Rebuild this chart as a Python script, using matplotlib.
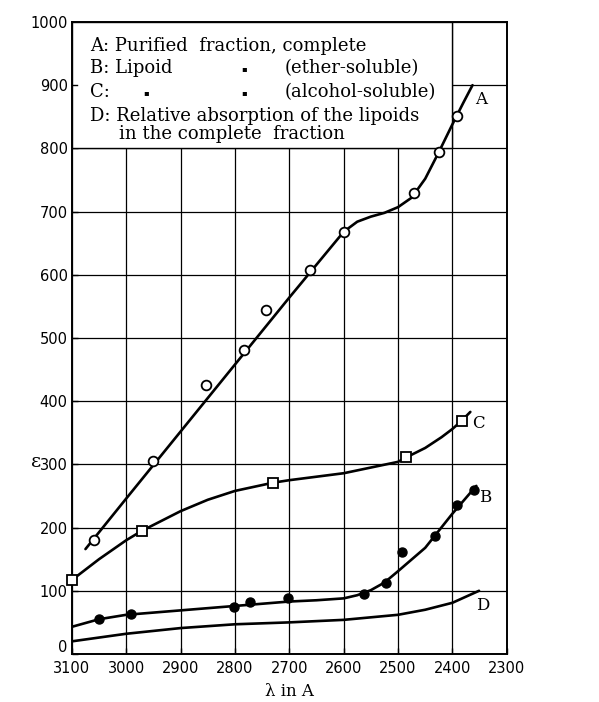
import matplotlib
matplotlib.use("Agg")
import matplotlib.pyplot as plt
import matplotlib.transforms as mtransforms
from matplotlib.patches import Rectangle

# ── Data ─────────────────────────────────────────────────────────────────────

# A: purified fraction, complete (open circles)
a_wl = [3060, 2951, 2853, 2784, 2742, 2662, 2600, 2470, 2425, 2391]
a_eps = [181, 305, 425, 481, 544, 608, 668, 730, 794, 852]
a_curve_wl = [3075, 3000, 2900, 2800, 2700, 2600, 2575, 2550, 2525,
              2500, 2475, 2450, 2425, 2400, 2380, 2363]
a_curve_eps = [166, 246, 352, 458, 564, 668, 684, 692, 698,
               707, 722, 752, 794, 838, 872, 900]

# B: lipoid, ether-soluble (filled circles)
b_wl = [3050, 2991, 2801, 2772, 2703, 2563, 2523, 2493, 2432, 2391, 2361]
b_eps = [56, 64, 75, 83, 89, 95, 112, 161, 186, 235, 260]
b_curve_wl = [3100, 3050, 3000, 2900, 2800, 2700, 2650, 2600, 2575,
              2550, 2525, 2500, 2450, 2400, 2356]
b_curve_eps = [43, 55, 62, 69, 76, 83, 85, 88, 93,
               101, 113, 131, 168, 222, 266]

# C: lipoid, alcohol-soluble (open squares)
c_wl = [3100, 2971, 2730, 2485, 2383]
c_eps = [117, 195, 271, 311, 369]
c_curve_wl = [3100, 3050, 3000, 2971, 2900, 2850, 2800, 2730, 2700,
              2600, 2500, 2485, 2450, 2420, 2400, 2383, 2367]
c_curve_eps = [117, 150, 180, 195, 226, 244, 258, 271, 275,
               286, 304, 311, 326, 343, 356, 369, 383]

# D: relative absorption of the lipoids in the complete fraction
d_curve_wl = [3100, 3000, 2900, 2800, 2700, 2600, 2500, 2450, 2400, 2351]
d_curve_eps = [20, 32, 41, 47, 50, 54, 62, 70, 81, 100]

x_ticks = [3100, 3000, 2900, 2800, 2700, 2600, 2500, 2400, 2300]
y_ticks = [0, 100, 200, 300, 400, 500, 600, 700, 800, 900, 1000]

LEGEND_FONT = "DejaVu Serif"
TICK_FONT = "DejaVu Sans"
LW = 1.9

fig = plt.figure(figsize=(5.99, 7.02), dpi=100)
ax = fig.add_axes([0.120, 0.0684, 0.726, 0.9003])
ax.set_xlim(3100, 2300)
ax.set_ylim(0, 1000)

ax.set_xticks(x_ticks)
ax.set_yticks(y_ticks)
ax.grid(True, color="black", lw=0.9, zorder=0)
ax.tick_params(direction="in", length=4, width=1, labelsize=10.5, pad=3)
ax.tick_params(axis="x", pad=5)
for lab in ax.get_xticklabels() + ax.get_yticklabels():
    lab.set_fontfamily(TICK_FONT)
# the "0" sits a little above the corner so it clears "3100"
zero = ax.get_yticklabels()[0]
zero.set_transform(zero.get_transform() +
                   mtransforms.ScaledTranslation(0, 6 / 72, fig.dpi_scale_trans))
for sp in ax.spines.values():
    sp.set_linewidth(1.4)

# curves
for wl, eps in [(a_curve_wl, a_curve_eps), (b_curve_wl, b_curve_eps),
                (c_curve_wl, c_curve_eps), (d_curve_wl, d_curve_eps)]:
    ax.plot(wl, eps, color="black", lw=LW, solid_joinstyle="round",
            solid_capstyle="round", zorder=3)

# points
ax.plot(a_wl, a_eps, "o", ms=7, mfc="white", mec="black", mew=1.3, zorder=4)
ax.plot(b_wl, b_eps, "o", ms=6.5, mfc="black", mec="black", zorder=4)
ax.plot(c_wl, c_eps, "s", ms=7.5, mfc="white", mec="black", mew=1.3,
        zorder=4, clip_on=False)

# curve letters
for txt, x, y in [("A", 2348, 877), ("C", 2353, 364),
                  ("B", 2340, 248), ("D", 2345, 77)]:
    ax.text(x, y, txt, fontsize=12, fontfamily=LEGEND_FONT,
            ha="center", va="center", zorder=5)

# legend box (white, covers the grid)
ax.add_patch(Rectangle((3100, 800), -700, 200, facecolor="white",
                       edgecolor="black", lw=1.0, zorder=2))
ax.plot([3100, 3090], [900, 900], color="black", lw=1, zorder=2.5)

leg = dict(fontsize=13, fontfamily=LEGEND_FONT, va="center", ha="left",
           zorder=5)
ax.text(3067, 962, "A: Purified  fraction, complete", **leg)
ax.text(3067, 927, "B: Lipoid", **leg)
ax.text(3067, 889, "C:", **leg)
ax.text(3067, 851, "D: Relative absorption of the lipoids", **leg)
ax.text(3013, 823, "in the complete  fraction", **leg)
for x, y in [(2783, 927), (2964, 889), (2783, 889)]:
    ax.text(x, y, "\u25aa", fontsize=6, ha="center", va="center", zorder=5)
ax.text(2708, 927, "(ether-soluble)", **leg)
ax.text(2708, 889, "(alcohol-soluble)", **leg)

ax.set_xlabel("\u03bb in A", fontsize=12, fontfamily=LEGEND_FONT, labelpad=5)
fig.text(0.060, 0.342, "\u03b5", fontsize=14, fontfamily=LEGEND_FONT,
         ha="center", va="center")

fig.savefig("out.png", dpi=100, facecolor="white")
